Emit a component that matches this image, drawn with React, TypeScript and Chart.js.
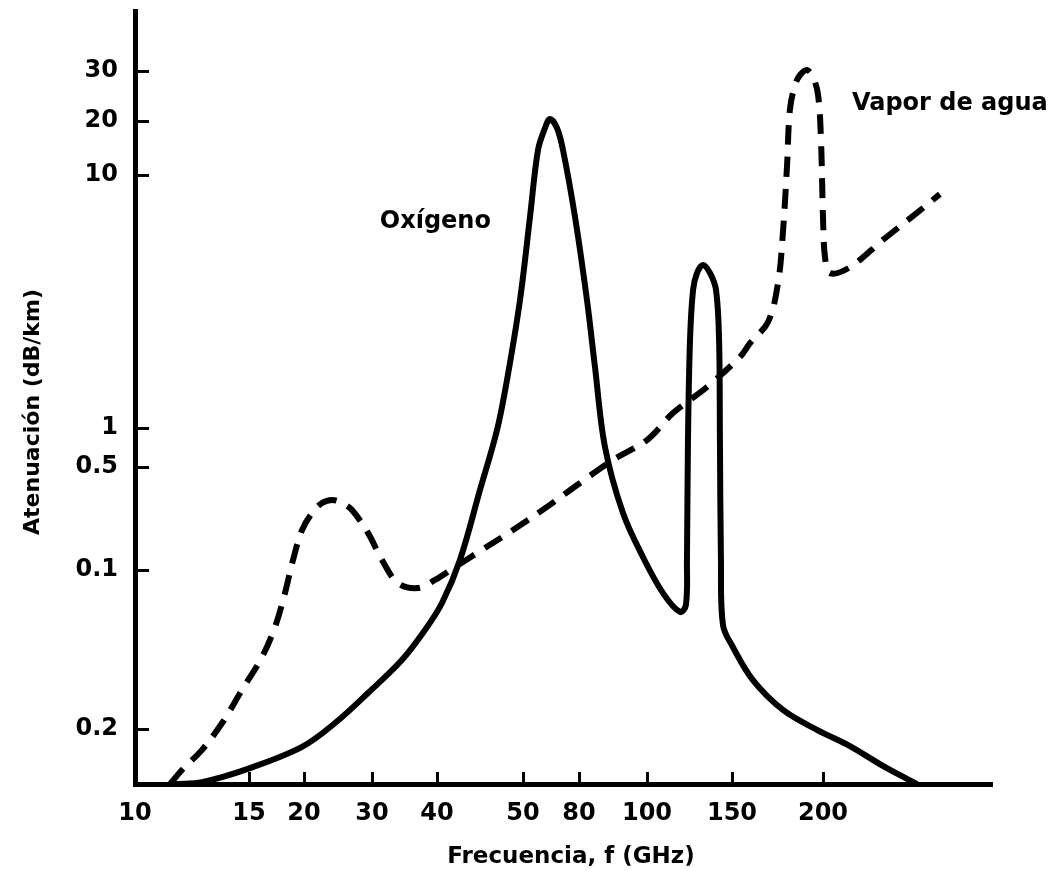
import React, { useEffect, useRef } from 'react';
import { Chart, registerables } from 'chart.js';

Chart.register(...registerables);

// ---- data ----
const X_TICK_GHZ = [10, 15, 20, 30, 40, 50, 80, 100, 150, 200];
const X_TICK_LABELS = ['10', '15', '20', '30', '40', '50', '80', '100', '150', '200'];
// the source prints "0.2" on its lowest tick (it sits below 0.1); treated as 0.02 internally
const Y_TICK_DB = [0.02, 0.1, 0.5, 1, 10, 20, 30];
const Y_TICK_LABELS = ['0.2', '0.1', '0.5', '1', '10', '20', '30'];

const OXYGEN_GHZ = [11.75, 12.94, 15.09, 19.82, 24.56, 29.41, 34.6, 38.15, 40.58, 42.67, 45.0, 46.98, 48.14, 49.65, 53.75, 58.04, 61.79, 64.46, 68.21, 71.43, 77.86, 82.35, 84.7, 87.64, 92.94, 98.82, 109.4, 119.4, 122.9, 123.5, 124.1, 125.3, 127.1, 129.4, 132.9, 137.1, 140.6, 142.4, 142.9, 143.5, 144.7, 150.5, 161.5, 178.0, 196.7, 214.8, 232.9, 251.6];
const OXYGEN_DB = [0, 0.0007, 0.0058, 0.0135, 0.023, 0.0381, 0.0547, 0.0698, 0.0834, 0.139, 0.411, 0.974, 2.71, 5.55, 8.51, 14.63, 18.7, 20.4, 18.7, 14.63, 8.51, 5.55, 3.17, 0.756, 0.321, 0.15, 0.0884, 0.0789, 0.0824, 0.139, 0.846, 4.13, 5.91, 6.51, 6.8, 6.51, 5.91, 4.13, 0.846, 0.139, 0.0723, 0.0612, 0.0446, 0.0296, 0.0197, 0.0138, 0.0066, 0];

const VAPOR_GHZ = [11.54, 12.06, 12.94, 13.82, 14.69, 16.18, 17.36, 18.27, 19.0, 19.82, 21.18, 22.65, 24.12, 25.59, 27.06, 29.41, 31.54, 34.0, 37.08, 39.69, 42.09, 45.23, 48.84, 62.86, 80.29, 90.0, 100, 115.3, 135.3, 154.4, 159.9, 169.8, 175.3, 177.96, 180.2, 181.8, 184.6, 187.4, 191.2, 194.5, 197.3, 198.9, 200, 201.1, 203.8, 214.8, 232.9, 251.6, 264.2];
const VAPOR_DB = [0, 0.0051, 0.0124, 0.023, 0.0396, 0.0562, 0.0713, 0.0884, 0.139, 0.255, 0.321, 0.36, 0.372, 0.36, 0.333, 0.244, 0.139, 0.0934, 0.0909, 0.095, 0.1117, 0.178, 0.255, 0.345, 0.438, 0.59, 0.846, 1.53, 2.46, 3.53, 4.02, 4.77, 6.16, 7.94, 11.48, 22.2, 27.2, 29.2, 30.2, 28.8, 25.2, 16.48, 8.51, 7.08, 6.51, 6.72, 7.69, 8.65, 9.32];

// ---- layout: where each tick sits along its (non-uniform) drawn axis ----
const X_TICK_AT = [0, 114, 169, 237, 302, 388, 444, 512, 597, 688];
const X_LEN = 857;
const Y_TICK_AT = [55, 214, 317, 356, 609, 663, 713];
const Y_LEN = 773;

function interp(v: number, from: number[], to: number[]) {
  const n = from.length;
  let i = 0;
  if (v <= from[0]) i = 0;
  else if (v >= from[n - 1]) i = n - 2;
  else {
    while (v > from[i + 1]) i++;
  }
  const t = (v - from[i]) / (from[i + 1] - from[i]);
  return to[i] + t * (to[i + 1] - to[i]);
}
const xPos = (f: number) => interp(f, X_TICK_GHZ, X_TICK_AT);
const yPos = (d: number) => interp(d, [0, ...Y_TICK_DB], [0, ...Y_TICK_AT]);

const FAMILY = '"DejaVu Sans", sans-serif';
const FONT = { family: FAMILY, size: 24, weight: 'bold' as const };

const decorPlugin = {
  id: 'decor',
  afterDraw(chart: any) {
    const { ctx, chartArea, scales } = chart;
    const xs = scales.x;
    const ys = scales.y;
    ctx.save();
    ctx.strokeStyle = '#000';
    ctx.lineWidth = 3;
    ctx.beginPath();
    Y_TICK_AT.forEach((v) => {
      const y = Math.round(ys.getPixelForValue(v)) + 0.5;
      ctx.moveTo(chartArea.left, y);
      ctx.lineTo(chartArea.left + 14, y);
    });
    X_TICK_AT.slice(1).forEach((v) => {
      const x = Math.round(xs.getPixelForValue(v)) + 0.5;
      ctx.moveTo(x, chartArea.bottom);
      ctx.lineTo(x, chartArea.bottom - 12);
    });
    ctx.stroke();

    ctx.fillStyle = '#000';
    ctx.font = `bold 24px ${FAMILY}`;
    ctx.textBaseline = 'alphabetic';
    ctx.textAlign = 'left';
    ctx.fillText('Oxígeno', xs.getPixelForValue(xPos(31.2)), ys.getPixelForValue(yPos(8.1)));
    ctx.fillText('Vapor de agua', xs.getPixelForValue(xPos(215.9)), ys.getPixelForValue(yPos(22.2)));

    ctx.font = `bold 23px ${FAMILY}`;
    ctx.textAlign = 'center';
    ctx.textBaseline = 'middle';
    ctx.fillText('Frecuencia, f (GHz)', 571, 857);
    ctx.font = `bold 22px ${FAMILY}`;
    ctx.translate(33, 412);
    ctx.rotate(-Math.PI / 2);
    ctx.fillText('Atenuación (dB/km)', 0, 0);
    ctx.restore();
  },
};

export default function App() {
  const ref = useRef<HTMLCanvasElement | null>(null);
  useEffect(() => {
    if (!ref.current) return;
    const toPts = (gs: number[], ds: number[]) => gs.map((g, i) => ({ x: xPos(g), y: yPos(ds[i]) }));
    const chart = new Chart(ref.current, {
      type: 'scatter',
      data: {
        datasets: [
          {
            label: 'Oxígeno',
            data: toPts(OXYGEN_GHZ, OXYGEN_DB),
            showLine: true,
            borderColor: '#000',
            borderWidth: 6,
            pointRadius: 0,
            tension: 0.35,
            borderJoinStyle: 'round',
            clip: false as any,
          },
          {
            label: 'Vapor de agua',
            data: toPts(VAPOR_GHZ, VAPOR_DB),
            showLine: true,
            borderColor: '#000',
            borderWidth: 6,
            borderDash: [20, 12],
            pointRadius: 0,
            tension: 0.35,
            clip: false as any,
          },
        ],
      },
      options: {
        animation: false,
        responsive: false,
        devicePixelRatio: 1,
        layout: { padding: { top: 11, right: 56, left: 0, bottom: 0 } },
        plugins: { legend: { display: false }, tooltip: { enabled: false } },
        scales: {
          x: {
            type: 'linear',
            min: 0,
            max: X_LEN,
            grid: { display: false, drawTicks: false },
            border: { display: true, color: '#000', width: 5 },
            ticks: {
              autoSkip: false,
              maxRotation: 0,
              padding: 15,
              color: '#000',
              font: FONT,
              callback: (_v: any, i: number) => X_TICK_LABELS[i],
            },
            afterBuildTicks: (s: any) => {
              s.ticks = X_TICK_AT.map((v) => ({ value: v }));
            },
            afterFit: (s: any) => {
              s.height = 87;
              s.paddingLeft = 0;
              s.paddingRight = 0;
            },
          },
          y: {
            type: 'linear',
            min: 0,
            max: Y_LEN,
            grid: { display: false, drawTicks: false },
            border: { display: true, color: '#000', width: 5 },
            ticks: {
              autoSkip: false,
              padding: 17,
              color: '#000',
              font: FONT,
              callback: (_v: any, i: number) => Y_TICK_LABELS[i],
            },
            afterBuildTicks: (s: any) => {
              s.ticks = Y_TICK_AT.map((v) => ({ value: v }));
            },
            afterFit: (s: any) => {
              s.width = 135;
              s.paddingTop = 0;
              s.paddingBottom = 0;
            },
          },
        },
      } as any,
      plugins: [decorPlugin],
    });
    return () => chart.destroy();
  }, []);
  return (
    <div style={{ position: 'fixed', left: 0, top: 0, width: 1048, height: 871, background: '#fff' }}>
      <canvas ref={ref} width={1048} height={871} style={{ width: 1048, height: 871 }} />
    </div>
  );
}
